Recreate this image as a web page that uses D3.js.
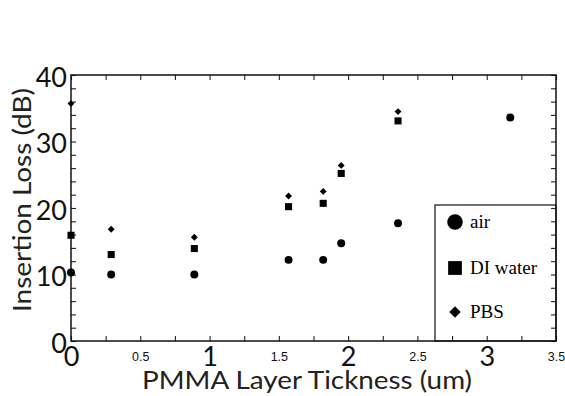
<!DOCTYPE html>
<html>
<head>
<meta charset="utf-8">
<script src="https://cdn.jsdelivr.net/npm/d3@7"></script>
<style>
  body { margin: 0; background: #fff; }
  svg { display: block; }
</style>
</head>
<body>
<div id="chart"></div>
<script>
// values
const thickness = [0, 0.29, 0.89, 1.57, 1.82, 1.95, 2.36, 3.17];
const airLoss   = [10.3, 10.0, 10.0, 12.2, 12.2, 14.7, 17.7, 33.6];
const waterLoss = [15.9, 13.0, 13.9, 20.2, 20.7, 25.2, 33.1, null];
const pbsLoss   = [35.7, 16.8, 15.6, 21.8, 22.5, 26.4, 34.5, null];
const seriesNames = ["air", "DI water", "PBS"];
const xTickLabels = [0, 0.5, 1, 1.5, 2, 2.5, 3, 3.5];
const yTickLabels = [0, 10, 20, 30, 40];

var width = 565, height = 396;
var margin = { top: 75, right: 9, bottom: 55, left: 71 };
var w = width - margin.left - margin.right;
var h = height - margin.top - margin.bottom;

var svg = d3.select("#chart").append("svg")
    .attr("width", width)
    .attr("height", height);

var g = svg.append("g")
    .attr("transform", `translate(${margin.left}, ${margin.top})`);

var x = d3.scaleLinear().domain([0, 3.5]).range([0, w]);
var y = d3.scaleLinear().domain([0, 40]).range([h, 0]);

var symbols = [d3.symbolCircle, d3.symbolSquare, d3.symbolDiamond2];
var allSeries = [airLoss, waterLoss, pbsLoss];

// inward ticks on all four sides
var xMinor = d3.range(0, 3.5001, 0.25);
var yMinor = d3.range(0, 40.001, 2);

g.append("g").attr("class", "tick-b")
    .attr("transform", `translate(0, ${h})`)
    .call(d3.axisBottom(x).tickValues(xMinor).tickSize(-5).tickFormat(""));
g.append("g").attr("class", "tick-t")
    .call(d3.axisTop(x).tickValues(xMinor).tickSize(-5).tickFormat(""));
g.append("g").attr("class", "tick-l")
    .call(d3.axisLeft(y).tickValues(yMinor).tickSize(-5).tickFormat(""));
g.append("g").attr("class", "tick-r")
    .attr("transform", `translate(${w}, 0)`)
    .call(d3.axisRight(y).tickValues(yMinor).tickSize(-5).tickFormat(""));

g.selectAll(".tick-b path, .tick-t path, .tick-l path, .tick-r path").remove();
g.selectAll(".tick line").attr("stroke", "#222").attr("stroke-width", 1.1);

// frame
g.append("rect")
    .attr("width", w).attr("height", h)
    .attr("fill", "none")
    .attr("stroke", "#111")
    .attr("stroke-width", 1.5);

// x labels: integers big, halves small
var xl = g.append("g")
    .attr("transform", `translate(0, ${h})`)
    .call(d3.axisBottom(x).tickValues(xTickLabels).tickSize(0).tickPadding(0)
        .tickFormat(d => d));
xl.select(".domain").remove();
xl.selectAll("text")
    .attr("dy", null)
    .attr("y", d => Number.isInteger(d) ? 25 : 20)
    .attr("font-family", d => Number.isInteger(d) ? "Lato, sans-serif" : "'Liberation Sans', Arial, sans-serif")
    .attr("font-size", d => Number.isInteger(d) ? "27px" : "12.5px")
    .attr("fill", "#111");

var yl = g.append("g")
    .call(d3.axisLeft(y).tickValues(yTickLabels).tickSize(0).tickPadding(4));
yl.select(".domain").remove();
yl.selectAll("text")
    .attr("dy", "0.42em")
    .attr("font-family", "Lato, sans-serif")
    .attr("font-size", "27px")
    .attr("fill", "#111");

// axis titles
svg.append("text")
    .attr("transform", `translate(31, 200) rotate(-90)`)
    .attr("text-anchor", "middle")
    .attr("font-family", "Lato, sans-serif")
    .attr("font-size", "25px")
    .attr("textLength", 224)
    .attr("lengthAdjust", "spacingAndGlyphs")
    .attr("fill", "#222")
    .text("Insertion Loss (dB)");

svg.append("text")
    .attr("x", 307)
    .attr("y", 389)
    .attr("text-anchor", "middle")
    .attr("font-family", "Lato, sans-serif")
    .attr("font-size", "25px")
    .attr("textLength", 330)
    .attr("lengthAdjust", "spacingAndGlyphs")
    .attr("fill", "#222")
    .text("PMMA Layer Tickness (um)");

// data points
var markSizes = [50, 50, 30];
allSeries.forEach(function(vals, i) {
    var pts = thickness.map((t, j) => ({ t: t, v: vals[j] })).filter(d => d.v != null);
    g.selectAll(".s" + i)
        .data(pts)
        .enter().append("path")
        .attr("class", "s" + i)
        .attr("d", d3.symbol().type(symbols[i]).size(markSizes[i]))
        .attr("transform", d => `translate(${x(d.t)}, ${y(d.v)})`)
        .attr("fill", "#000");
});

// legend box
var legend = svg.append("g");
legend.append("rect")
    .attr("x", 435).attr("y", 205)
    .attr("width", 556 - 435).attr("height", 341 - 205)
    .attr("fill", "none")
    .attr("stroke", "#111")
    .attr("stroke-width", 1.2);

var legendY = [222, 268, 312];
var legendSizes = [190, 190, 85];
seriesNames.forEach(function(name, i) {
    legend.append("path")
        .attr("d", d3.symbol().type(symbols[i]).size(legendSizes[i]))
        .attr("transform", `translate(455, ${legendY[i]})`)
        .attr("fill", "#000");
    legend.append("text")
        .attr("x", 470)
        .attr("y", legendY[i] + 6)
        .attr("font-family", "'Liberation Serif', 'Times New Roman', serif")
        .attr("font-size", "19px")
        .attr("fill", "#000")
        .text(name);
});
</script>
</body>
</html>
